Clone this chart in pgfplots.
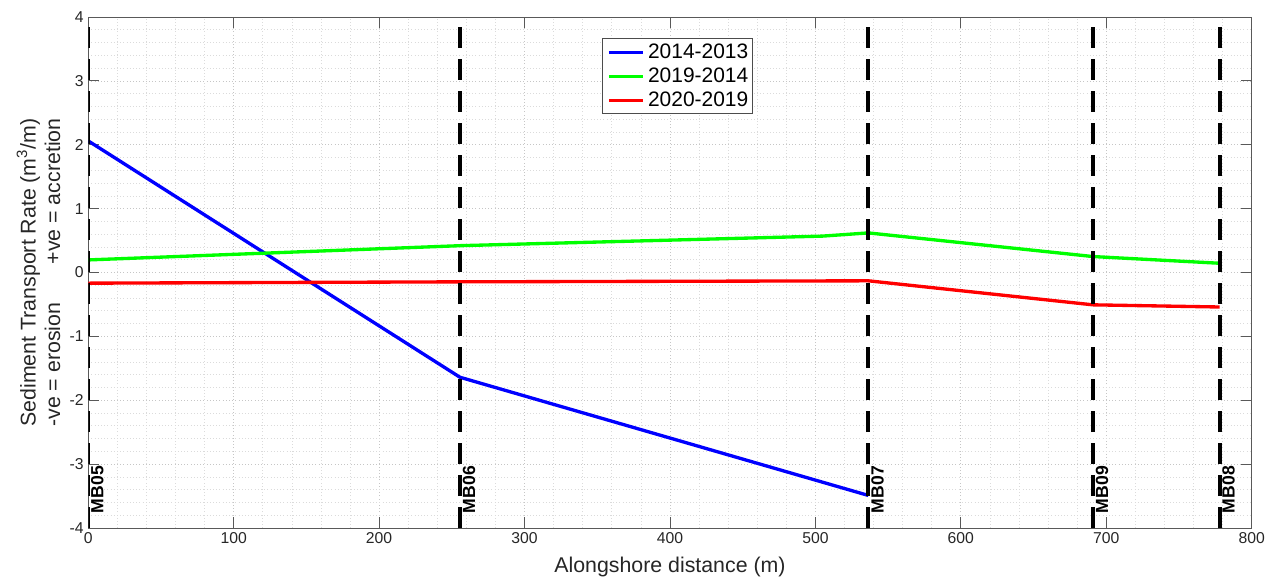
\documentclass[border=0pt]{standalone}
\usepackage{fontspec}
\setmainfont{Liberation Sans}
\usepackage{calc}
\usepackage{pgfplots}
\pgfplotsset{compat=1.18}
\begin{document}
\begin{tikzpicture}
\begin{axis}[
  at={(0pt,0pt)}, anchor=south west,
  scale only axis, width=872.55pt, height=383.25pt,
  xmin=0, xmax=800, ymin=-4, ymax=4,
  xtick={0,100,...,800}, ytick={-4,-3,...,4},
  minor x tick num=4, minor y tick num=4,
  grid=both,
  major grid style={dotted, draw=gray!45, line width=0.5pt},
  minor grid style={dotted, draw=gray!28, line width=0.5pt},
  tick align=inside, major tick length=8pt, minor tick length=0pt,
  tick style={draw=black!65, line width=0.6pt},
  axis line style={draw=black!65, line width=0.6pt},
  ticklabel style={font=\fontsize{11.8}{13}\selectfont, text=black!85},
  /pgf/number format/assume math mode=true,
  xlabel={Alongshore distance (m)},
  xlabel style={at={(axis description cs:0.5,-0.0763)}, anchor=center, inner sep=0pt, font=\fontsize{16}{19}\selectfont, text=black!85},
  ylabel={Sediment Transport Rate (m\textsuperscript{3}/m)\\\makebox[\widthof{Sediment Transport Rate (m\textsuperscript{3}/m)}]{-ve = erosion\hfill+ve = accretion}},
  ylabel style={at={(axis description cs:-0.0237,0.5)}, anchor=south, inner sep=0pt, align=center, font=\fontsize{16}{18.5}\selectfont, text=black!85},
  legend style={at={(0.4416,0.958)}, anchor=north west, draw=black!70, line width=0.6pt, fill=white,
    font=\fontsize{15.7}{18}\selectfont, inner xsep=3.5pt, inner ysep=3pt, row sep=4pt, column sep=2.25pt,
    nodes={inner sep=0pt, text height=11.5pt, text depth=2.5pt}},
  legend cell align=left,
  legend image code/.code={\draw[#1] (0pt,0pt) -- (26pt,0pt);},
]
\addplot[blue, line width=2.5pt, line join=round] coordinates {(0,2.06) (255.6,-1.64) (536.4,-3.49)};
\addlegendentry{2014-2013}
\addplot[green, line width=2.5pt, line join=round] coordinates {(0,0.197) (255.6,0.42) (505,0.57) (536.4,0.62) (690.8,0.25) (777.9,0.145)};
\addlegendentry{2019-2014}
\addplot[red, line width=2.5pt, line join=round] coordinates {(0,-0.167) (255.6,-0.146) (536.4,-0.13) (690.8,-0.506) (777.9,-0.54)};
\addlegendentry{2020-2019}
\addplot[black, line width=3pt, dash pattern=on 16pt off 8pt, forget plot] coordinates {(0,-4) (0,4)};
\addplot[black, line width=3pt, dash pattern=on 16pt off 8pt, forget plot] coordinates {(255.6,-4) (255.6,4)};
\addplot[black, line width=3pt, dash pattern=on 16pt off 8pt, forget plot] coordinates {(536.4,-4) (536.4,4)};
\addplot[black, line width=3pt, dash pattern=on 16pt off 8pt, forget plot] coordinates {(690.8,-4) (690.8,4)};
\addplot[black, line width=3pt, dash pattern=on 16pt off 8pt, forget plot] coordinates {(777.9,-4) (777.9,4)};
\node[rotate=90, anchor=north west, inner sep=0pt, font=\fontsize{13.2}{15}\selectfont\bfseries] at (axis cs:1.8,-3.77) {MB05};
\node[rotate=90, anchor=north west, inner sep=0pt, font=\fontsize{13.2}{15}\selectfont\bfseries] at (axis cs:257.4,-3.77) {MB06};
\node[rotate=90, anchor=north west, inner sep=0pt, font=\fontsize{13.2}{15}\selectfont\bfseries] at (axis cs:538.2,-3.77) {MB07};
\node[rotate=90, anchor=north west, inner sep=0pt, font=\fontsize{13.2}{15}\selectfont\bfseries] at (axis cs:692.6,-3.77) {MB09};
\node[rotate=90, anchor=north west, inner sep=0pt, font=\fontsize{13.2}{15}\selectfont\bfseries] at (axis cs:779.7,-3.77) {MB08};
\end{axis}
\pgfresetboundingbox
\path (-66.2pt,-38.25pt) rectangle (889.3pt,396pt);
\end{tikzpicture}
\end{document}
